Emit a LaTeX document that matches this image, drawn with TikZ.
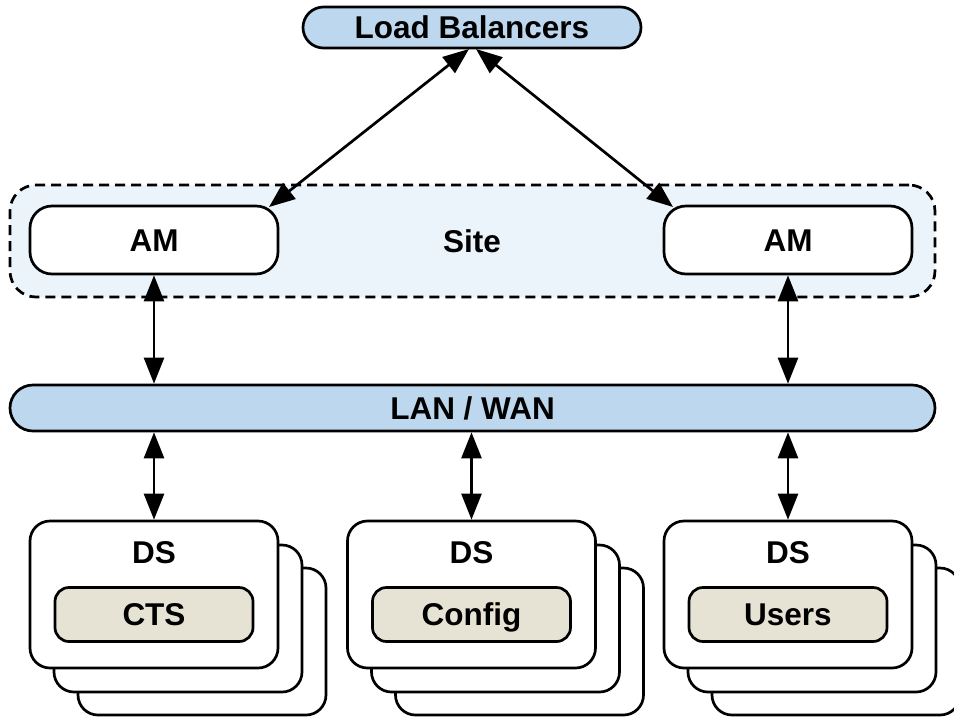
\documentclass[tikz,border=0pt]{standalone}
\usepackage{fontspec}
\setmainfont{Liberation Sans}
\usetikzlibrary{arrows.meta}
\definecolor{lbblue}{HTML}{BDD7EE}
\definecolor{sitebg}{HTML}{EBF3FB}
\definecolor{beige}{HTML}{E6E2D4}
\tikzset{
  txt/.style={font=\bfseries\fontsize{31.5}{38}\selectfont, text height=22.6pt, text depth=0pt, inner sep=0pt},
  base/.style={txt, draw=black, line width=2.7pt},
  pill/.style={base, fill=lbblue},
  sitebox/.style={base, fill=sitebg, dash pattern=on 10pt off 6pt, rounded corners=26pt, minimum width=925pt, minimum height=112pt},
  ambox/.style={base, fill=white, rounded corners=22pt, minimum width=248pt, minimum height=68pt},
  dsbox/.style={base, fill=white, rounded corners=20pt, minimum width=248pt, minimum height=147pt},
  subbox/.style={base, fill=beige, rounded corners=14pt, minimum width=198pt, minimum height=54pt},
  link/.style={line width=2.7pt, {Triangle[length=26pt,width=20pt]}-{Triangle[length=26pt,width=20pt]}},
  lbl/.style={txt}
}
\begin{document}
\begin{tikzpicture}[x=1pt,y=-1pt]
\useasboundingbox (0,0) rectangle (954,716);
% Load balancers
\node[pill, rounded corners=20.5pt, minimum width=338pt, minimum height=41pt] (lb) at (472,27.5) {Load Balancers};
% Site
\node[sitebox] (site) at (472.5,241) {};
\node[lbl] (sitelbl) at (472,241) {Site};
\node[ambox] (aml) at (154,240) {AM};
\node[ambox] (amr) at (788,240) {AM};
% LAN
\node[pill, rounded corners=23pt, minimum width=925pt, minimum height=46pt] (lan) at (472.5,408) {LAN / WAN};
% DS stacks
\foreach \nm/\cx/\sub in {a/154/CTS, b/471.5/Config, c/788/Users}{
  \node[dsbox] (\nm3) at (\cx+48,641.5) {};
  \node[dsbox] (\nm2) at (\cx+24,618.5) {};
  \node[dsbox] (\nm1) at (\cx,594.5) {};
  \node[lbl] (\nm t) at (\cx,552) {DS};
  \node[subbox] (\nm s) at (\cx,614.5) {\sub};
}
% connectors
\coordinate (lbl1) at (469,49);
\coordinate (lbr1) at (476,49);
\coordinate (amlc) at (269,207);
\coordinate (amrc) at (673,207);
\draw[link] (lbl1) -- (amlc);
\draw[link] (lbr1) -- (amrc);
\draw[link] (aml.south) -- (aml.south |- lan.north);
\draw[link] (amr.south) -- (amr.south |- lan.north);
\draw[link] (a1.north) -- (a1.north |- lan.south);
\draw[link] (b1.north) -- (b1.north |- lan.south);
\draw[link] (c1.north) -- (c1.north |- lan.south);
\end{tikzpicture}
\end{document}
